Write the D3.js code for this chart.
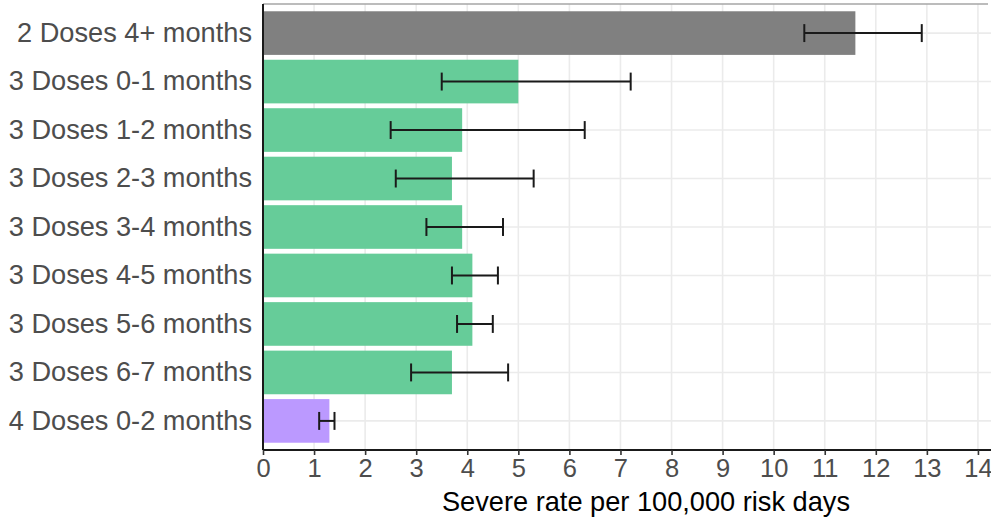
<!DOCTYPE html>
<html>
<head>
<meta charset="utf-8">
<script src="https://cdn.jsdelivr.net/npm/d3@7"></script>
<style>
  html, body { margin: 0; padding: 0; background: #fff; }
  svg { display: block; }
</style>
</head>
<body>
<svg id="chart" width="991" height="521"></svg>
<script>
// Severe-outcome rate by vaccination status
const categories = [
  "2 Doses 4+ months",
  "3 Doses 0-1 months",
  "3 Doses 1-2 months",
  "3 Doses 2-3 months",
  "3 Doses 3-4 months",
  "3 Doses 4-5 months",
  "3 Doses 5-6 months",
  "3 Doses 6-7 months",
  "4 Doses 0-2 months"
];
const rates = [11.6, 5.0, 3.9, 3.7, 3.9, 4.1, 4.1, 3.7, 1.3];
const lower = [10.6, 3.5, 2.5, 2.6, 3.2, 3.7, 3.8, 2.9, 1.1];
const upper = [12.9, 7.2, 6.3, 5.3, 4.7, 4.6, 4.5, 4.8, 1.4];
const doseGroup = ["2", "3", "3", "3", "3", "3", "3", "3", "4"];
const xTicks = d3.range(0, 15);
const xTitle = "Severe rate per 100,000 risk days";

const groupColor = d3.scaleOrdinal()
  .domain(["2", "3", "4"])
  .range(["#808080", "#66CC99", "#BB99FF"]);

const svg = d3.select("#chart");
const panel = { left: 263, right: 1029, top: 4, bottom: 450 };
const font = "'Liberation Sans', Arial, sans-serif";

const x = d3.scaleLinear().domain([0, 15]).range([panel.left, panel.right]);
const y = d3.scaleBand()
  .domain(categories)
  .range([panel.top, panel.bottom])
  .paddingInner(0.1)
  .paddingOuter(0.15);

const rows = categories.map((c, i) => ({
  cat: c, rate: rates[i], lo: lower[i], hi: upper[i], grp: doseGroup[i]
}));

const grid = svg.append("g");
// vertical grid at every integer
grid.selectAll("line.v").data(xTicks).join("line")
  .attr("x1", d => x(d)).attr("x2", d => x(d))
  .attr("y1", panel.top).attr("y2", panel.bottom)
  .attr("stroke", "#ebebeb").attr("stroke-width", 1.6);
// horizontal grid through each category
grid.selectAll("line.h").data(categories).join("line")
  .attr("x1", panel.left).attr("x2", panel.right)
  .attr("y1", d => y(d) + y.bandwidth() / 2)
  .attr("y2", d => y(d) + y.bandwidth() / 2)
  .attr("stroke", "#ebebeb").attr("stroke-width", 1.6);

// top frame edge
svg.append("line")
  .attr("x1", panel.left).attr("x2", 988)
  .attr("y1", panel.top).attr("y2", panel.top)
  .attr("stroke", "#a6a6a6").attr("stroke-width", 1.5);

// bars
svg.append("g").selectAll("rect").data(rows).join("rect")
  .attr("x", x(0))
  .attr("y", d => y(d.cat))
  .attr("width", d => x(d.rate) - x(0))
  .attr("height", y.bandwidth())
  .attr("fill", d => groupColor(d.grp));

// error bars
const capH = y.step() * 0.37;
const eb = svg.append("g").attr("stroke", "#1a1a1a").attr("stroke-width", 2).attr("fill", "none");
rows.forEach(d => {
  const cy = y(d.cat) + y.bandwidth() / 2;
  eb.append("line").attr("x1", x(d.lo)).attr("x2", x(d.hi)).attr("y1", cy).attr("y2", cy);
  eb.append("line").attr("x1", x(d.lo)).attr("x2", x(d.lo)).attr("y1", cy - capH / 2).attr("y2", cy + capH / 2);
  eb.append("line").attr("x1", x(d.hi)).attr("x2", x(d.hi)).attr("y1", cy - capH / 2).attr("y2", cy + capH / 2);
});

// x axis
const xAxis = svg.append("g")
  .attr("transform", `translate(0,${panel.bottom})`)
  .call(d3.axisBottom(x).tickValues(xTicks).tickFormat(d3.format("d")).tickSize(5).tickPadding(4));
xAxis.select(".domain").attr("stroke", "#1a1a1a").attr("stroke-width", 2)
  .attr("d", `M${panel.left},0H${panel.right}`);
xAxis.selectAll(".tick line").attr("stroke", "#333").attr("stroke-width", 1.6);
xAxis.selectAll(".tick text")
  .attr("fill", "#4d4d4d")
  .style("font-family", font)
  .style("font-size", "25.5px");

// y axis
const yAxis = svg.append("g")
  .attr("transform", `translate(${panel.left},0)`)
  .call(d3.axisLeft(y).tickSize(0).tickPadding(11));
yAxis.select(".domain").attr("stroke", "#1a1a1a").attr("stroke-width", 2)
  .attr("d", `M0,${panel.top}V${panel.bottom}`);
yAxis.selectAll(".tick text")
  .attr("fill", "#4d4d4d")
  .style("font-family", font)
  .style("font-size", "27.2px");

// axis title
svg.append("text")
  .attr("x", (panel.left + panel.right) / 2)
  .attr("y", 511)
  .attr("text-anchor", "middle")
  .attr("fill", "#000")
  .style("font-family", font)
  .style("font-size", "27.2px")
  .text(xTitle);
</script>
</body>
</html>
